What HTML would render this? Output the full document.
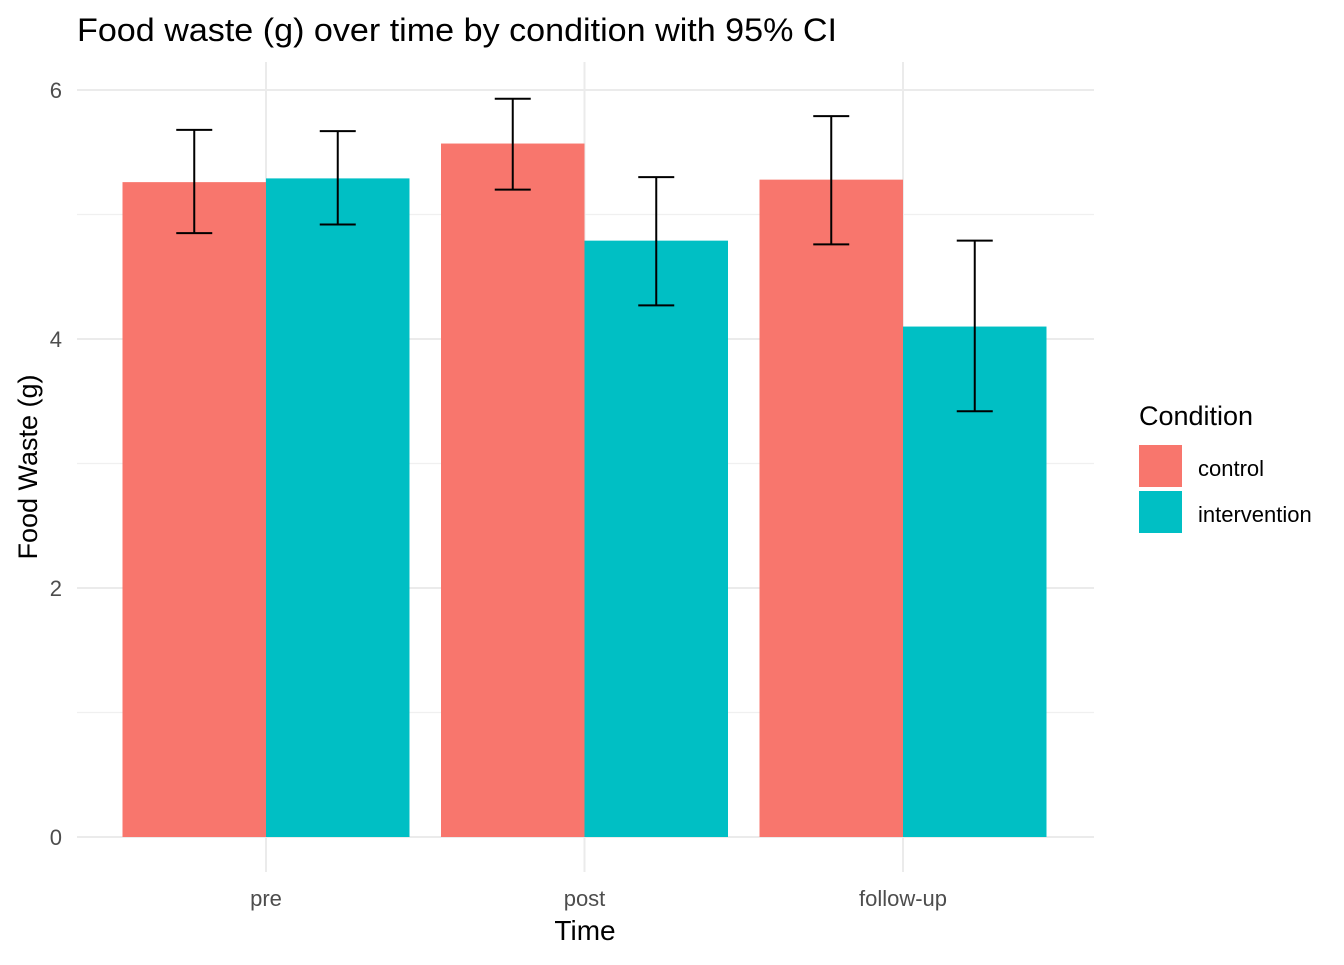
<!DOCTYPE html>
<html><head><meta charset="utf-8"><style>
body{margin:0;background:#fff;}
svg text{font-family:"Liberation Sans",Arial,sans-serif;}
</style></head><body>
<svg id="chart" width="1344" height="960">
<text x="77" y="41" font-size="32" fill="#000" textLength="760" lengthAdjust="spacingAndGlyphs">Food waste (g) over time by condition with 95% CI</text>
<g id="grid"></g><g id="bars"></g><g id="errs"></g><g id="axes"></g>
<text x="585" y="940" font-size="28" text-anchor="middle" fill="#000">Time</text>
<text transform="translate(37,467) rotate(-90)" font-size="27" text-anchor="middle" fill="#000">Food Waste (g)</text>
<g>
<text x="1139" y="425" font-size="27" fill="#000">Condition</text>
<rect x="1139" y="445" width="43" height="42" fill="#F8766D"/>
<text x="1198" y="476" font-size="22" fill="#000">control</text>
<rect x="1139" y="491" width="43" height="42" fill="#00BFC4"/>
<text x="1198" y="522" font-size="22" fill="#000">intervention</text>
</g>
</svg>
<script>
const categories=["pre","post","follow-up"];
const controlMean=[5.26,5.57,5.28];
const controlLow=[4.85,5.20,4.76];
const controlHigh=[5.68,5.93,5.79];
const interventionMean=[5.29,4.79,4.10];
const interventionLow=[4.92,4.27,3.42];
const interventionHigh=[5.67,5.30,4.79];
const yTicks=[0,2,4,6];
const yMinor=[1,3,5];

const NS="http://www.w3.org/2000/svg";
const y=v=>837-v*124.5;
const x=i=>266+i*318.5;
const bw=143.5;
function mk(parent,tag,attrs){const e=document.createElementNS(NS,tag);for(const k in attrs)e.setAttribute(k,attrs[k]);document.getElementById(parent).appendChild(e);return e;}
yMinor.forEach(v=>{const l=mk('grid','line',{x1:77,x2:1094,y1:y(v),y2:y(v),stroke:'#f0f0f0','stroke-width':1.2});

});
yTicks.forEach(v=>{const l=mk('grid','line',{x1:77,x2:1094,y1:y(v),y2:y(v),stroke:'#ebebeb','stroke-width':2});


const t=mk('axes','text',{x:62,y:y(v)+8,'font-size':22,'text-anchor':'end',fill:'#4d4d4d'});t.textContent=v;

});
categories.forEach((c,i)=>{const l=mk('grid','line',{x1:x(i),x2:x(i),y1:62,y2:872,stroke:'#ebebeb','stroke-width':2});


const t=mk('axes','text',{x:x(i),y:906,'font-size':22,'text-anchor':'middle',fill:'#4d4d4d'});t.textContent=c;


[[controlMean,controlLow,controlHigh,'#F8766D',-1,'control'],[interventionMean,interventionLow,interventionHigh,'#00BFC4',0,'intervention']].forEach(([m,lo,hi,col,off,nm])=>{
const bx=x(i)+off*bw;
const r=mk('bars','rect',{x:bx,y:y(m[i]),width:bw,height:y(0)-y(m[i]),fill:col});


const cx=bx+bw/2;
const g=mk('errs','path',{d:`M${cx-18},${y(hi[i])}H${cx+18}M${cx},${y(hi[i])}V${y(lo[i])}M${cx-18},${y(lo[i])}H${cx+18}`,stroke:'#000','stroke-width':2,fill:'none'});


});});
</script>
</body></html>
